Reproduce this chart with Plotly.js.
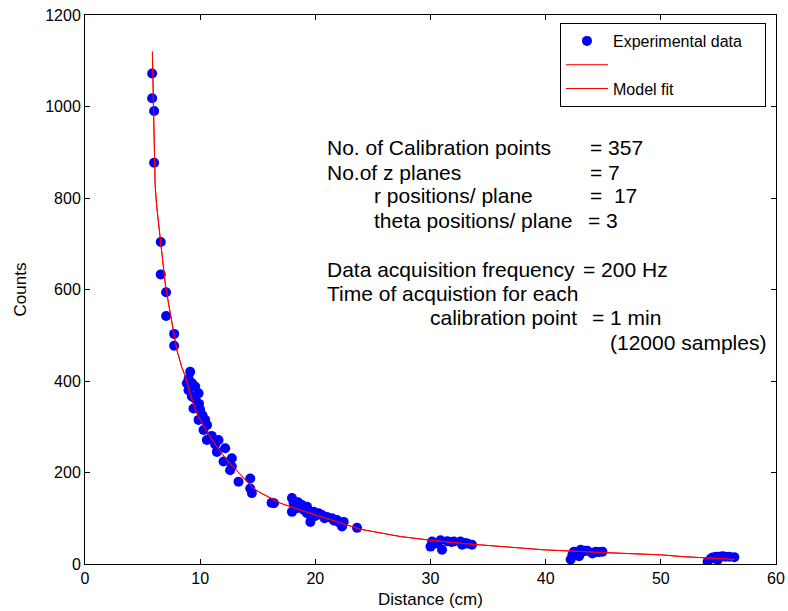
<!DOCTYPE html>
<html>
<head>
<meta charset="utf-8">
<script src="https://cdn.plot.ly/plotly-3.0.1.min.js"></script>
<style>html,body{margin:0;padding:0;background:#fff;}#chart{width:788px;height:611px;}</style>
</head>
<body>
<div id="chart"></div>
<script>
// Experimental data (distance in cm, counts)
const expX = [5.83, 5.83, 6.0, 6.0, 6.58, 6.58, 7.04, 7.04, 7.74, 7.74,
  9.13, 8.84, 8.99, 9.0, 9.3, 9.57, 9.86, 9.28, 9.42, 9.6, 9.9, 10.0, 9.86, 10.2, 10.43, 10.29, 10.58, 10.6, 11.0, 11.3,
  11.59, 11.45, 12.17, 12.03, 12.75, 12.75, 12.6, 13.33, 14.35, 14.35, 14.49,
  16.2, 16.4, 17.97, 18.12, 17.97, 18.41, 18.5, 18.84, 19.0, 19.28, 19.28, 19.57, 19.86, 20.0, 20.29, 20.58, 20.8,
  21.0, 21.45, 21.6, 21.88, 22.0, 22.17, 22.46, 22.32, 23.62,
  30.0, 30.14, 30.43, 30.87, 31.0, 31.45, 31.8, 32.03, 32.6, 32.75, 33.0, 33.2, 33.6,
  42.17, 42.32, 42.46, 42.7, 42.9, 43.04, 43.19, 43.4, 43.62, 44.06, 44.35, 44.6, 44.93,
  54.06, 54.35, 54.5, 54.78, 54.93, 55.1, 55.36, 55.6, 55.94, 56.38];
const expY = [1072, 1018, 990, 877, 704, 633, 594, 542, 503, 477,
  420, 395, 380, 405, 395, 388, 373, 366, 340, 360, 350, 337, 315, 325, 315, 293, 271, 304, 280, 262,
  271, 245, 253, 224, 231, 213, 205, 180, 187, 165, 155,
  134, 133, 144, 133, 114, 122, 135, 129, 118, 125, 111, 92, 114, 105, 111, 107, 100,
  103, 100, 95, 96, 92, 89, 92, 82, 79,
  38, 49, 45, 52, 31, 50, 48, 49, 49, 42, 46, 45, 42,
  10, 20, 27, 25, 17, 31, 27, 29, 29, 23, 27, 26, 27,
  5, 12, 14, 16, 9, 16, 17, 16, 16, 15];

// Model fit curve
const fitX = [5.85, 5.94, 6.09, 6.23, 6.43, 6.67, 6.96, 7.25, 7.54, 7.97, 8.41, 8.70, 9.13, 9.71, 10.58,
  11.45, 12.32, 13.48, 14.64, 15.22, 16.09, 16.96, 18.7, 21.0, 23.9, 27.4, 30.0, 33.2, 39.85, 45.0,
  50.0, 52.0, 54.3, 56.4];
const fitY = [1120, 978, 828, 781, 737, 672, 614, 570, 526, 468, 430, 410, 373, 329, 289,
  256, 227, 195, 165, 156, 144, 133, 118, 100, 76, 60, 52, 44, 31, 25,
  20, 16, 13, 10];

const xTicks = [0, 10, 20, 30, 40, 50, 60];
const yTicks = [0, 200, 400, 600, 800, 1000, 1200];

const infoLeft = ["No. of Calibration points", "No.of z planes", "Data acquisition frequency", "Time of acquistion for each"];
const infoIndent = ["r positions/ plane", "theta positions/ plane"];
const infoValues = ["= 357", "= 7", "=  17", "= 3", "= 200 Hz", "= 1 min", "(12000 samples)"];

const L = 85, R = 776, T = 15, B = 564;
const px = v => (v - L) / (R - L);
const py = v => (B - v) / (B - T);
const F = "Arial, 'Liberation Sans', sans-serif";

const ann = [];
function addText(text, x, y, anchor) {
  ann.push({text: text, xref: 'paper', yref: 'paper', x: px(x), y: py(y),
    xanchor: anchor || 'left', yanchor: 'middle', showarrow: false,
    font: {family: F, size: 21, color: '#000'}});
}
addText(infoLeft[0], 325, 148);
addText(infoLeft[1], 325, 172);
addText(infoIndent[0], 372, 196);
addText(infoIndent[1], 372, 220);
addText(infoLeft[2], 325, 269);
addText(infoLeft[3], 325, 293);
addText("calibration point", 579, 318, 'right');
addText(infoValues[0], 588, 148);
addText(infoValues[1], 588, 172);
addText(infoValues[2], 588, 196);
addText(infoValues[3], 586, 220);
addText(infoValues[4], 581, 269);
addText(infoValues[5], 590, 318);
addText(infoValues[6], 608, 342);

const pad = '\u00a0\u00a0\u00a0\u00a0';
const traces = [
  {x: expX, y: expY, type: 'scatter', mode: 'markers', name: 'Experimental data' + pad,
   marker: {color: '#0000ff', size: 10}},
  {x: fitX, y: fitY, type: 'scatter', mode: 'lines', name: ' ',
   line: {color: '#ff0000', width: 1}},
  {x: fitX, y: fitY, type: 'scatter', mode: 'lines', name: 'Model fit',
   line: {color: '#ff0000', width: 1}}
];

const axisCommon = {showline: true, linecolor: '#000', linewidth: 1, mirror: 'ticks',
  ticks: 'inside', ticklen: 5, tickcolor: '#000', showgrid: false, zeroline: false,
  tickfont: {family: F, size: 16, color: '#000'}};

const layout = {
  width: 788, height: 611,
  margin: {l: L, r: 788 - R, t: T, b: 611 - B, pad: 0},
  paper_bgcolor: '#fff', plot_bgcolor: '#fff',
  showlegend: true,
  legend: {x: px(560), y: py(23), xanchor: 'left', yanchor: 'top',
    bordercolor: '#000', borderwidth: 1, bgcolor: '#fff', itemwidth: 42,
    font: {family: F, size: 16, color: '#000'}, tracegroupgap: 0},
  xaxis: Object.assign({}, axisCommon, {range: [0, 60], tickvals: xTicks,
    ticktext: xTicks.map(String),
    title: {text: 'Distance (cm)', font: {family: F, size: 17, color: '#000'}, standoff: 6}}),
  yaxis: Object.assign({}, axisCommon, {range: [0, 1200], tickvals: yTicks,
    ticktext: yTicks.map(String),
    title: {text: 'Counts', font: {family: F, size: 17, color: '#000'}, standoff: 14}}),
  annotations: ann
};

Plotly.newPlot('chart', traces, layout, {staticPlot: true, displayModeBar: false});
</script>
</body>
</html>
